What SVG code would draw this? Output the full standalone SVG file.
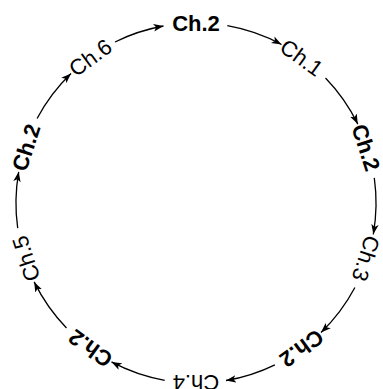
<svg xmlns="http://www.w3.org/2000/svg" width="383" height="389" viewBox="0 0 383 389">
<defs>
<style>
text{font-family:"Liberation Sans",Arial,sans-serif;font-size:22px;fill:#000;text-anchor:middle}
.b{font-weight:bold}
.e{fill:none;stroke:#000;stroke-width:1.3}
</style>
<marker id="ah" markerUnits="userSpaceOnUse" markerWidth="11" markerHeight="9" refX="10" refY="4.5" orient="auto">
<path d="M0,0.8 L10,4.5 L0,8.2 L2.5,4.5 z" fill="#000"/>
</marker>
</defs>
<rect width="383" height="389" fill="#fff"/>
<g id="connectors">
<path class="e" marker-end="url(#ah)" d="M227.3,25.7 A180,180 0 0 1 281.5,44.5"/>
<path class="e" marker-end="url(#ah)" d="M325.5,78.0 A180,180 0 0 1 357.8,124.1"/>
<path class="e" marker-end="url(#ah)" d="M374.3,177.9 A180,180 0 0 1 373.3,234.3"/>
<path class="e" marker-end="url(#ah)" d="M354.9,287.5 A180,180 0 0 1 321.0,332.5"/>
<path class="e" marker-end="url(#ah)" d="M274.9,364.8 A180,180 0 0 1 226.0,380.5"/>
<path class="e" marker-end="url(#ah)" d="M164.7,380.3 A180,180 0 0 1 111.5,361.9"/>
<path class="e" marker-end="url(#ah)" d="M66.5,328.0 A180,180 0 0 1 34.2,281.9"/>
<path class="e" marker-end="url(#ah)" d="M17.7,228.1 A180,180 0 0 1 18.7,171.8"/>
<path class="e" marker-end="url(#ah)" d="M37.1,118.5 A180,180 0 0 1 71.0,73.5"/>
<path class="e" marker-end="url(#ah)" d="M115.0,42.0 A180,180 0 0 1 163.5,26.0"/>
</g>
<g id="n0"><text class="b" transform="translate(196,23) rotate(0)" dy="0.36em">Ch.2</text></g>
<g id="n1"><text transform="translate(301.8,57.4) rotate(36)" dy="0.36em">Ch.1</text></g>
<g id="n2"><text class="b" transform="translate(366.2,147.4) rotate(72)" dy="0.36em">Ch.2</text></g>
<g id="n3"><text transform="translate(366.2,258.6) rotate(108)" dy="0.36em">Ch.3</text></g>
<g id="n4"><text class="b" transform="translate(301.8,348.6) rotate(144)" dy="0.36em">Ch.2</text></g>
<g id="n5"><text transform="translate(196,383) rotate(180)" dy="0.36em">Ch.4</text></g>
<g id="n6"><text class="b" transform="translate(90.2,348.6) rotate(216)" dy="0.36em">Ch.2</text></g>
<g id="n7"><text transform="translate(25.8,258.6) rotate(252)" dy="0.36em">Ch.5</text></g>
<g id="n8"><text class="b" transform="translate(25.8,147.4) rotate(288)" dy="0.36em">Ch.2</text></g>
<g id="n9"><text transform="translate(90.2,57.4) rotate(324)" dy="0.36em">Ch.6</text></g>
</svg>
